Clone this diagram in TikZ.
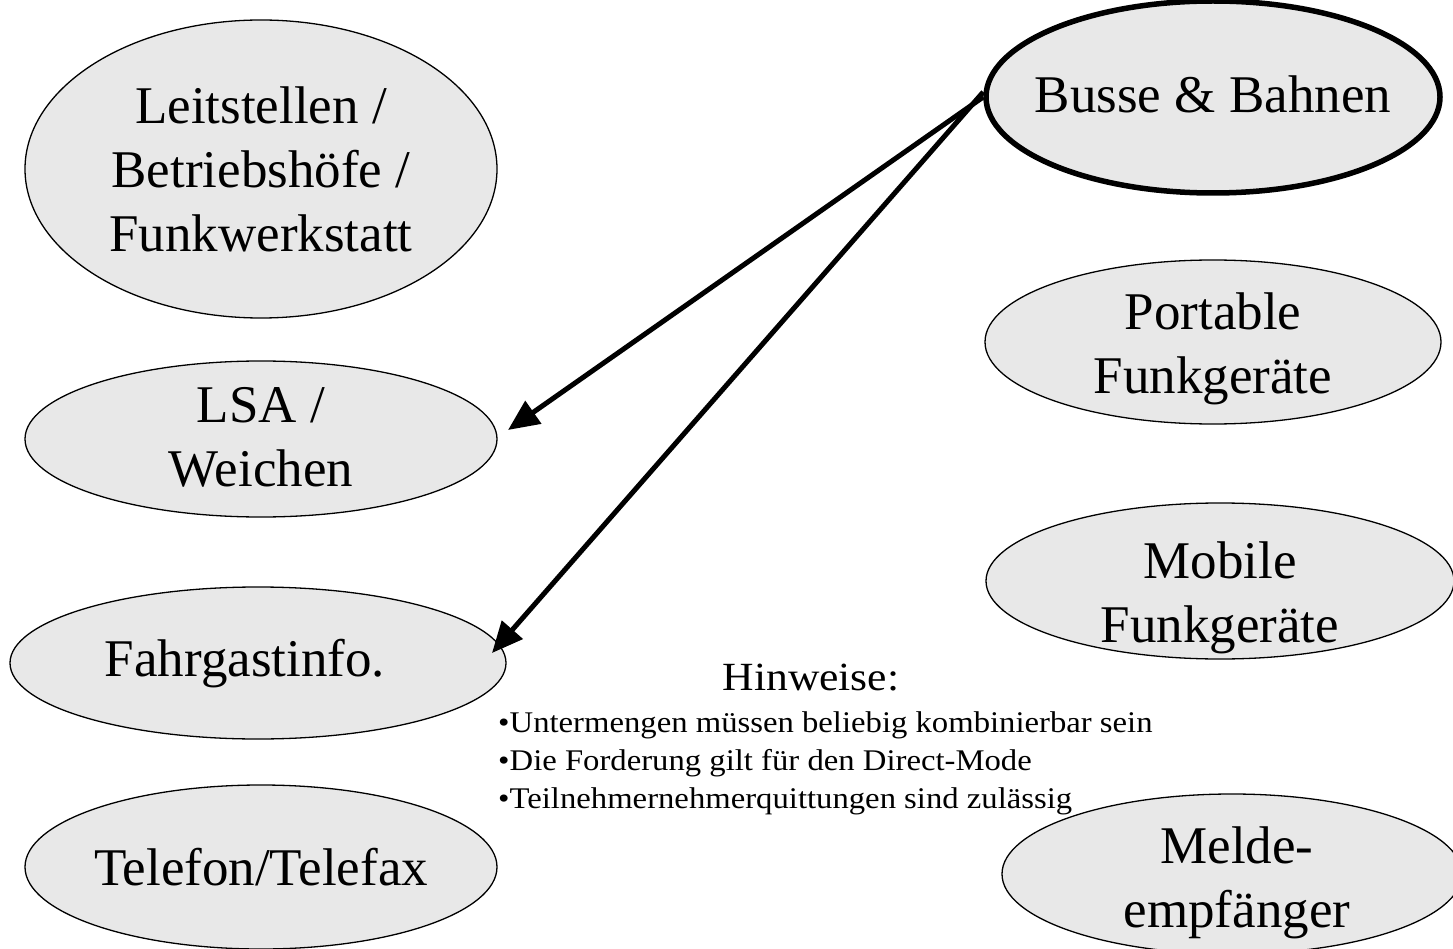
\documentclass[tikz,border=0pt]{standalone}
\usepackage{fontspec}
\setmainfont{Liberation Serif}
\newfontfamily\hintfont[FakeStretch=1.09]{Liberation Serif}
\usetikzlibrary{shapes.geometric,arrows.meta}
\begin{document}
\begin{tikzpicture}[x=1pt,y=-1pt,
  oval/.style={ellipse,draw=black,line width=1.3pt,fill=ovalgray,inner sep=0pt},
  lbl/.style={align=center,font=\fontsize{53}{64}\selectfont,inner sep=0pt},
  arr/.style={line width=5pt,-{Triangle[length=31pt,width=27pt]}},
  hint/.style={anchor=base west,font=\hintfont\fontsize{30}{36}\selectfont,inner sep=0pt}]
\definecolor{ovalgray}{RGB}{232,232,232}
\useasboundingbox (0,0) rectangle (1453,949);
% left column
\node[oval,minimum width=472pt,minimum height=298pt] (leit) at (261,169) {};
\node[lbl] (leitT) at (261,169) {Leitstellen /\\Betriebshöfe /\\Funkwerkstatt};
\node[oval,minimum width=472pt,minimum height=156pt] (lsa) at (261,439) {};
\node[lbl] (lsaT) at (261,437) {LSA /\\Weichen};
\node[oval,minimum width=496pt,minimum height=152pt] (fahr) at (258,663) {};
\node[lbl] (fahrT) at (245,664) {Fahrgastinfo.};
\node[oval,minimum width=472pt,minimum height=164pt] (tel) at (261,867) {};
\node[lbl] (telT) at (261,867) {Telefon/Telefax};
% right column
\node[oval,line width=5.5pt,minimum width=454pt,minimum height=192pt] (busse) at (1213,97) {};
\node[lbl] (busseT) at (1213,94) {Busse \& Bahnen};
\node[oval,minimum width=456pt,minimum height=164pt] (port) at (1213,342) {};
\node[lbl] (portT) at (1213,349) {Portable\\Funkgeräte};
\node[oval,minimum width=468pt,minimum height=156pt] (mob) at (1220,581) {};
\node[lbl] (mobT) at (1220,598) {Mobile\\Funkgeräte};
\node[oval,minimum width=460pt,minimum height=160pt] (meld) at (1232,874) {};
\node[lbl] (meldT) at (1237,883) {Melde-\\empfänger};
% arrows
\coordinate (e1) at (508,430);
\coordinate (e2) at (492,653);
\draw[arr] (busse.west) -- (e1);
\draw[arr] ([yshift=5pt]busse.west) -- (e2);
% hints
\node[anchor=base,font=\hintfont\fontsize{40}{48}\selectfont,inner sep=0pt] (hin) at (811,690) {Hinweise:};
\node[hint] (h1) at (498,732) {•Untermengen müssen beliebig kombinierbar sein};
\node[hint] (h2) at (498,770) {•Die Forderung gilt für den Direct-Mode};
\node[hint] (h3) at (498,808) {•Teilnehmernehmerquittungen sind zulässig};
\end{tikzpicture}
\end{document}
